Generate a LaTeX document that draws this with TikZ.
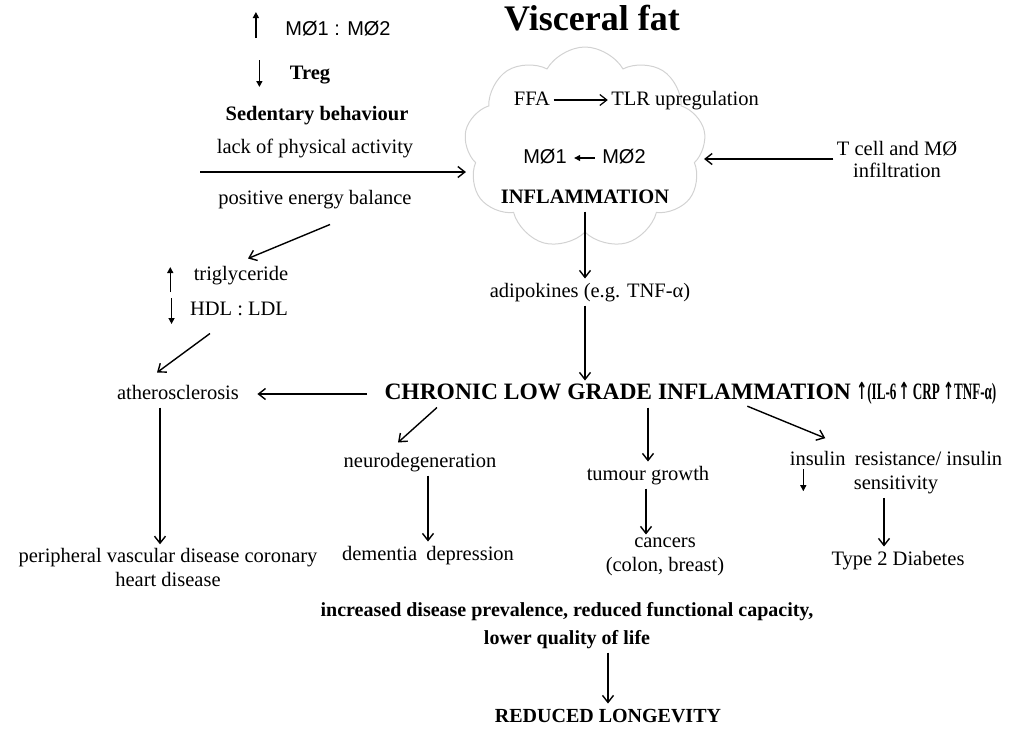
\documentclass[tikz,border=0pt]{standalone}
\usepackage{graphicx}
\usepackage{fontspec}
\setmainfont{Liberation Serif}
\newfontfamily\sansf{Liberation Sans}
\newfontfamily\arrowf{DejaVu Sans}
\usetikzlibrary{arrows.meta,shapes.symbols}
\newcommand{\bodysize}{\fontsize{20.5}{24}\selectfont}
\newcommand{\upar}{{\arrowf\char"2191}}

\begin{document}
\begin{tikzpicture}[x=1pt,y=-1pt,
  base/.style={inner sep=1.5pt,outer sep=2pt,align=center},
  txt/.style={base,font=\bodysize,text height=15pt,text depth=5pt},
  bld/.style={txt,font=\bodysize\bfseries},
  ml/.style={base,font=\bodysize},
  sns/.style={txt,font=\sansf\fontsize{20}{24}\selectfont},
  arr/.style={-{Straight Barb[length=7pt,width=11pt]},line width=1.4pt},
  tick/.style={-{Triangle[length=6pt,width=6pt]},line width=1.4pt}]
  \useasboundingbox (0,0) rectangle (1015,729);

  % fat tissue cloud
  \node[cloud,cloud puffs=9,cloud puff arc=120,cloud ignores aspect,draw=gray!35,line width=1pt,
        minimum width=242pt,minimum height=202pt] (fat) at (585,148) {};
  \node[font=\fontsize{36}{40}\selectfont\bfseries] (vf) at (592,18) {Visceral fat};

  % contents of the cloud
  \node[txt] (ffa) at (532,100) {FFA};
  \node[txt] (tlr) at (685,100) {TLR upregulation};
  \draw[arr,line width=1.2pt] (ffa.east) -- (tlr.west);
  \node[sns] (m1) at (545,158) {MØ1};
  \node[sns] (m2) at (624,158) {MØ2};
  \draw[tick,line width=1.1pt,shorten <=4pt,shorten >=4pt] (m2.west) -- (m1.east);
  \node[bld] (infl) at (585,198) {INFLAMMATION};

  % lifestyle side
  \node[sns] (mm) at (338,30) {MØ1 : MØ2};
  \draw[tick] ([xshift=-26pt,yshift=-8pt]mm.west) -- ++(0,-26);
  \node[bld] (treg) at (310,74) {Treg};
  \draw[tick] ([xshift=-27pt,yshift=14pt]treg.west) -- ++(0,27);
  \node[bld] (sed) at (317,115) {Sedentary behaviour};
  \node[txt] (lack) at (315,148) {lack of physical activity};
  \node[txt] (peb) at (315,199) {positive energy balance};
  \coordinate (lin) at (200,172);
  \draw[arr] (lin) -- (lin -| fat.west);

  % infiltration from the right
  \node[ml,font=\fontsize{20.5}{22}\selectfont] (tcell) at (897,159) {T cell and MØ\\infiltration};
  \draw[arr] (tcell.west) -- (tcell.west -| fat.east);

  % lipids
  \node[txt] (trig) at (241,275) {triglyceride};
  \draw[tick] ([xshift=-20pt,yshift=-17pt]trig.west) -- ++(0,-25);
  \node[txt] (hdl) at (239,310) {HDL : LDL};
  \draw[tick] ([xshift=-15pt,yshift=12pt]hdl.west) -- ++(0,26);
  \draw[arr] ([xshift=15pt,yshift=-12pt]peb.south) -- ([xshift=7pt,yshift=3pt]trig.north);

  % main chain
  \node[txt] (adipo) at (590,292) {adipokines (e.g. TNF-α)};
  \draw[arr] (infl.south) -- (infl.south |- adipo.north);
  \node[bld,anchor=west,font=\fontsize{23.5}{26}\selectfont\bfseries] (clgi) at (381,394)
    {CHRONIC LOW GRADE INFLAMMATION};
  \node[bld,anchor=west,inner sep=0pt,font=\fontsize{23.5}{26}\selectfont\bfseries] (mark) at (clgi.east)
    {\resizebox{140pt}{\height}{\upar(IL-6\,\upar\ CRP \upar TNF-α)}};
  \draw[arr] (adipo.south -| infl.south) -- (infl.south |- clgi.north);

  % outcomes
  \node[txt] (athero) at (178,394) {atherosclerosis};
  \draw[arr,shorten <=14pt,shorten >=15pt] (clgi.west) -- (athero.east);
  \draw[arr] ([xshift=-29pt,yshift=-10pt]hdl.south) -- ([xshift=-21pt,yshift=8pt]athero.north);
  \node[ml] (pvd) at (168,567) {peripheral vascular disease coronary\\heart disease};
  \draw[arr] ([xshift=-18pt]athero.south) coordinate (athb) -- (athb |- pvd.north);

  \node[txt] (neuro) at (420,462) {neurodegeneration};
  \draw[arr] ([xshift=56pt]clgi.south west) -- ([xshift=-22pt,yshift=6pt]neuro.north);
  \node[txt] (dem) at (428,555) {dementia\hspace{4pt} depression};
  \draw[arr] (neuro.south -| dem.north) -- (dem.north);

  \node[txt] (tum) at (648,475) {tumour growth};
  \draw[arr] (tum.north |- clgi.south) -- (tum.north);
  \node[ml] (canc) at (665,557) {cancers\\(colon, breast)};
  \draw[arr] ([xshift=-2pt]tum.south) coordinate (tumb) -- (tumb |- canc.north);

  \node[ml] (ins) at (896,473) {insulin\hspace{4pt} resistance/ insulin\\sensitivity};
  \draw[arr] ([xshift=-39pt,yshift=42pt]ins.north west) -- ([xshift=39pt,yshift=10pt]ins.north west);
  \draw[tick,line width=1.2pt] ([xshift=17pt,yshift=-21pt]ins.north west) -- ++(0,22);
  \node[txt] (t2d) at (898,560) {Type 2 Diabetes};
  \draw[arr] ([xshift=-12pt]ins.south) coordinate (insb) -- (insb |- t2d.north);

  % consequences
  \node[ml,font=\fontsize{20}{28}\selectfont\bfseries] (inc) at (567,626)
    {increased disease prevalence, reduced functional capacity,\\lower quality of life};
  \node[bld,font=\fontsize{20}{24}\selectfont\bfseries] (lon) at (608,717) {REDUCED LONGEVITY};
  \draw[arr] (lon.north |- inc.south) -- (lon.north);
\end{tikzpicture}
\end{document}
